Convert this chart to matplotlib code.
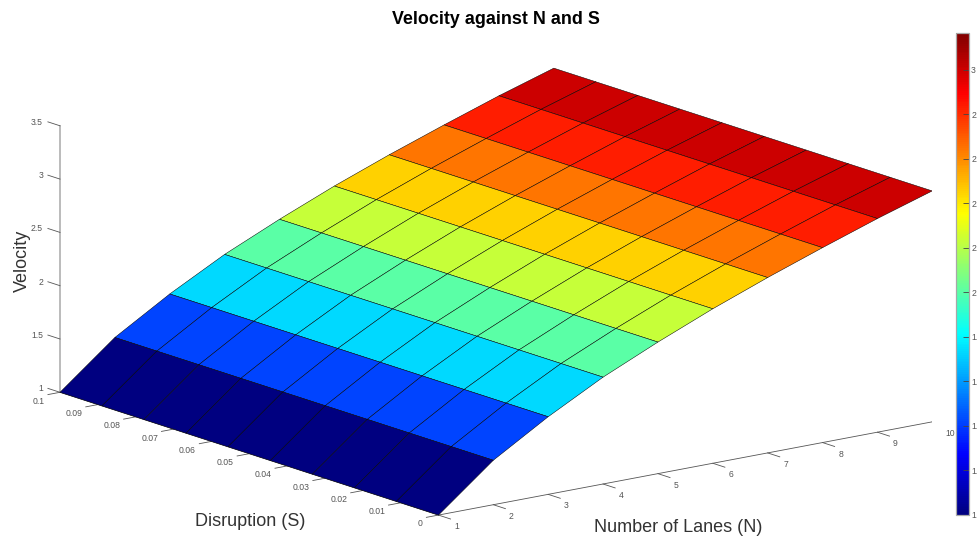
import numpy as np
import matplotlib
matplotlib.use('Agg')
import matplotlib.pyplot as plt
from matplotlib.cm import ScalarMappable
from matplotlib.colors import LinearSegmentedColormap, Normalize
from mpl_toolkits.mplot3d import proj3d

plt.rcParams['font.family'] = ['Liberation Sans', 'DejaVu Sans']

# values
lanes = [1, 2, 3, 4, 5, 6, 7, 8, 9, 10]
disruption = [0, 0.0111, 0.0222, 0.0333, 0.0444, 0.0556, 0.0667, 0.0778, 0.0889, 0.1]
velocity = [1.0, 1.417, 1.728, 2.002, 2.234, 2.449, 2.645, 2.828, 3.004, 3.166]

lane_ticks = [1, 2, 3, 4, 5, 6, 7, 8, 9, 10]
s_ticks = [0, 0.01, 0.02, 0.03, 0.04, 0.05, 0.06, 0.07, 0.08, 0.09, 0.1]
s_labels = ['0', '0.01', '0.02', '0.03', '0.04', '0.05', '0.06', '0.07', '0.08', '0.09', '0.1']
v_ticks = [1, 1.5, 2, 2.5, 3, 3.5]
v_labels = ['1', '1.5', '2', '2.5', '3', '3.5']
cbar_ticks = [1, 1.2, 1.4, 1.6, 1.8, 2, 2.2, 2.4, 2.6, 2.8, 3]
cbar_labels = ['1', '1.2', '1.4', '1.6', '1.8', '2', '2.2', '2.4', '2.6', '2.8', '3']

# matlab's jet has its knots in other places than matplotlib's
jet_stops = [0, 0.125, 0.375, 0.625, 0.875, 1]
jet_colors = [(0, 0, 0.5), (0, 0, 1), (0, 1, 1), (1, 1, 0), (1, 0, 0), (0.5, 0, 0)]

W, H = 977, 537
TICK_GREY = '#555555'
LABEL_GREY = '#333333'

fig = plt.figure(figsize=(W / 100, H / 100), dpi=100, facecolor='white')
ax = fig.add_axes([0, 0, 1, 1], projection='3d', computed_zorder=False)
ax.set_proj_type('ortho')
ax.view_init(elev=14.33, azim=-127.34)
ax.set_box_aspect((621.2, 624.0, 275.1))
ax.set_xlim(1, 10, view_margin=0)
ax.set_ylim(0, 0.1, view_margin=0)
ax.set_zlim(1, 3.5, view_margin=0)
ax.set_axis_off()
ax.patch.set_alpha(0)


def to_pixels(x, y, z):
    px, py, _ = proj3d.proj_transform(x, y, z, ax.get_proj())
    return ax.transData.transform((px, py))


def place(side, left, bottom):
    ax.set_position([left / W, bottom / H, side / W, side / H])
    ax.apply_aspect()


# fit the box so the corners land where they are in the picture
place(1000, 0, 0)
a = to_pixels(1, 0.1, 1)
b = to_pixels(10, 0, 1)
side = 1000 * np.hypot(932.3 - 60, 420.7 - 392.3) / np.hypot(*(b - a))
place(side, 0, 0)
a = to_pixels(1, 0.1, 1)
place(side, 60 - a[0], H - 392.3 - a[1])

X, Y = np.meshgrid(lanes, disruption)
Z = np.tile(velocity, (len(disruption), 1))
norm = Normalize(min(velocity), max(velocity))
cmap = LinearSegmentedColormap.from_list('matlab_jet', list(zip(jet_stops, jet_colors)), N=256)

ax.plot_surface(X, Y, Z, rstride=1, cstride=1, facecolors=cmap(norm(Z)), shade=False,
                edgecolor='black', linewidth=0.35, antialiased=True, zorder=5)


def tick_label(x, y, z, text, dx, dy, ha):
    px, py, _ = proj3d.proj_transform(x, y, z, ax.get_proj())
    ax.annotate(text, (px, py), xytext=(dx, dy), textcoords='offset pixels', ha=ha, va='center',
                fontsize=6.2, color=TICK_GREY, annotation_clip=False)


# axis lines and ticks
ax.plot([1, 1], [0.1, 0.1], [1, 3.5], color='#a8a8a8', lw=1.1, zorder=1)
ax.plot([1, 10], [0, 0], [1, 1], color='#555555', lw=0.6, zorder=1)
ax.plot([1, 1], [0, 0.1], [1, 1], color='#555555', lw=0.6, zorder=1)

for v, lab in zip(v_ticks, v_labels):
    ax.plot([1, 1], [0.1, 0.1032], [v, v], color='#555555', lw=0.6, zorder=1)
    tick_label(1, 0.1, v, lab, -17, 3.5, 'right')
for s, lab in zip(s_ticks, s_labels):
    ax.plot([1, 0.78], [s, s], [1, 1], color='#555555', lw=0.6, zorder=1)
    tick_label(1, s, 1, lab, -15.5, -8.9, 'right')
for n in lane_ticks:
    ax.plot([n, n], [0, -0.0032], [1, 1], color='#555555', lw=0.6, zorder=1)
    tick_label(n, 0, 1, str(n), 18, -11.5, 'center')

# colour bar
cax = fig.add_axes([955.7 / W, 1 - 515 / H, 13.3 / W, 482.3 / H])
cbar = fig.colorbar(ScalarMappable(norm=norm, cmap=cmap), cax=cax)
cbar.set_ticks(cbar_ticks, labels=cbar_labels)
cbar.ax.tick_params(direction='in', length=4, width=0.6, color='#444444', labelsize=6.2,
                    labelcolor=TICK_GREY, pad=1.5)
cbar.outline.set_edgecolor('#a8a8a8')
cbar.outline.set_linewidth(0.9)

fig.text(496 / W, 1 - 20 / H, 'Velocity against N and S', ha='center', va='center',
         fontsize=12.9, fontweight='bold', color='black')
fig.text(250.5 / W, 1 - 521 / H, 'Disruption (S)', ha='center', va='center', fontsize=13, color=LABEL_GREY)
fig.text(678 / W, 1 - 527 / H, 'Number of Lanes (N)', ha='center', va='center', fontsize=13, color=LABEL_GREY)
fig.text(22 / W, 1 - 261 / H, 'Velocity', ha='center', va='center', rotation=90, fontsize=13, color=LABEL_GREY)

fig.savefig('out.png', dpi=100, facecolor='white')
